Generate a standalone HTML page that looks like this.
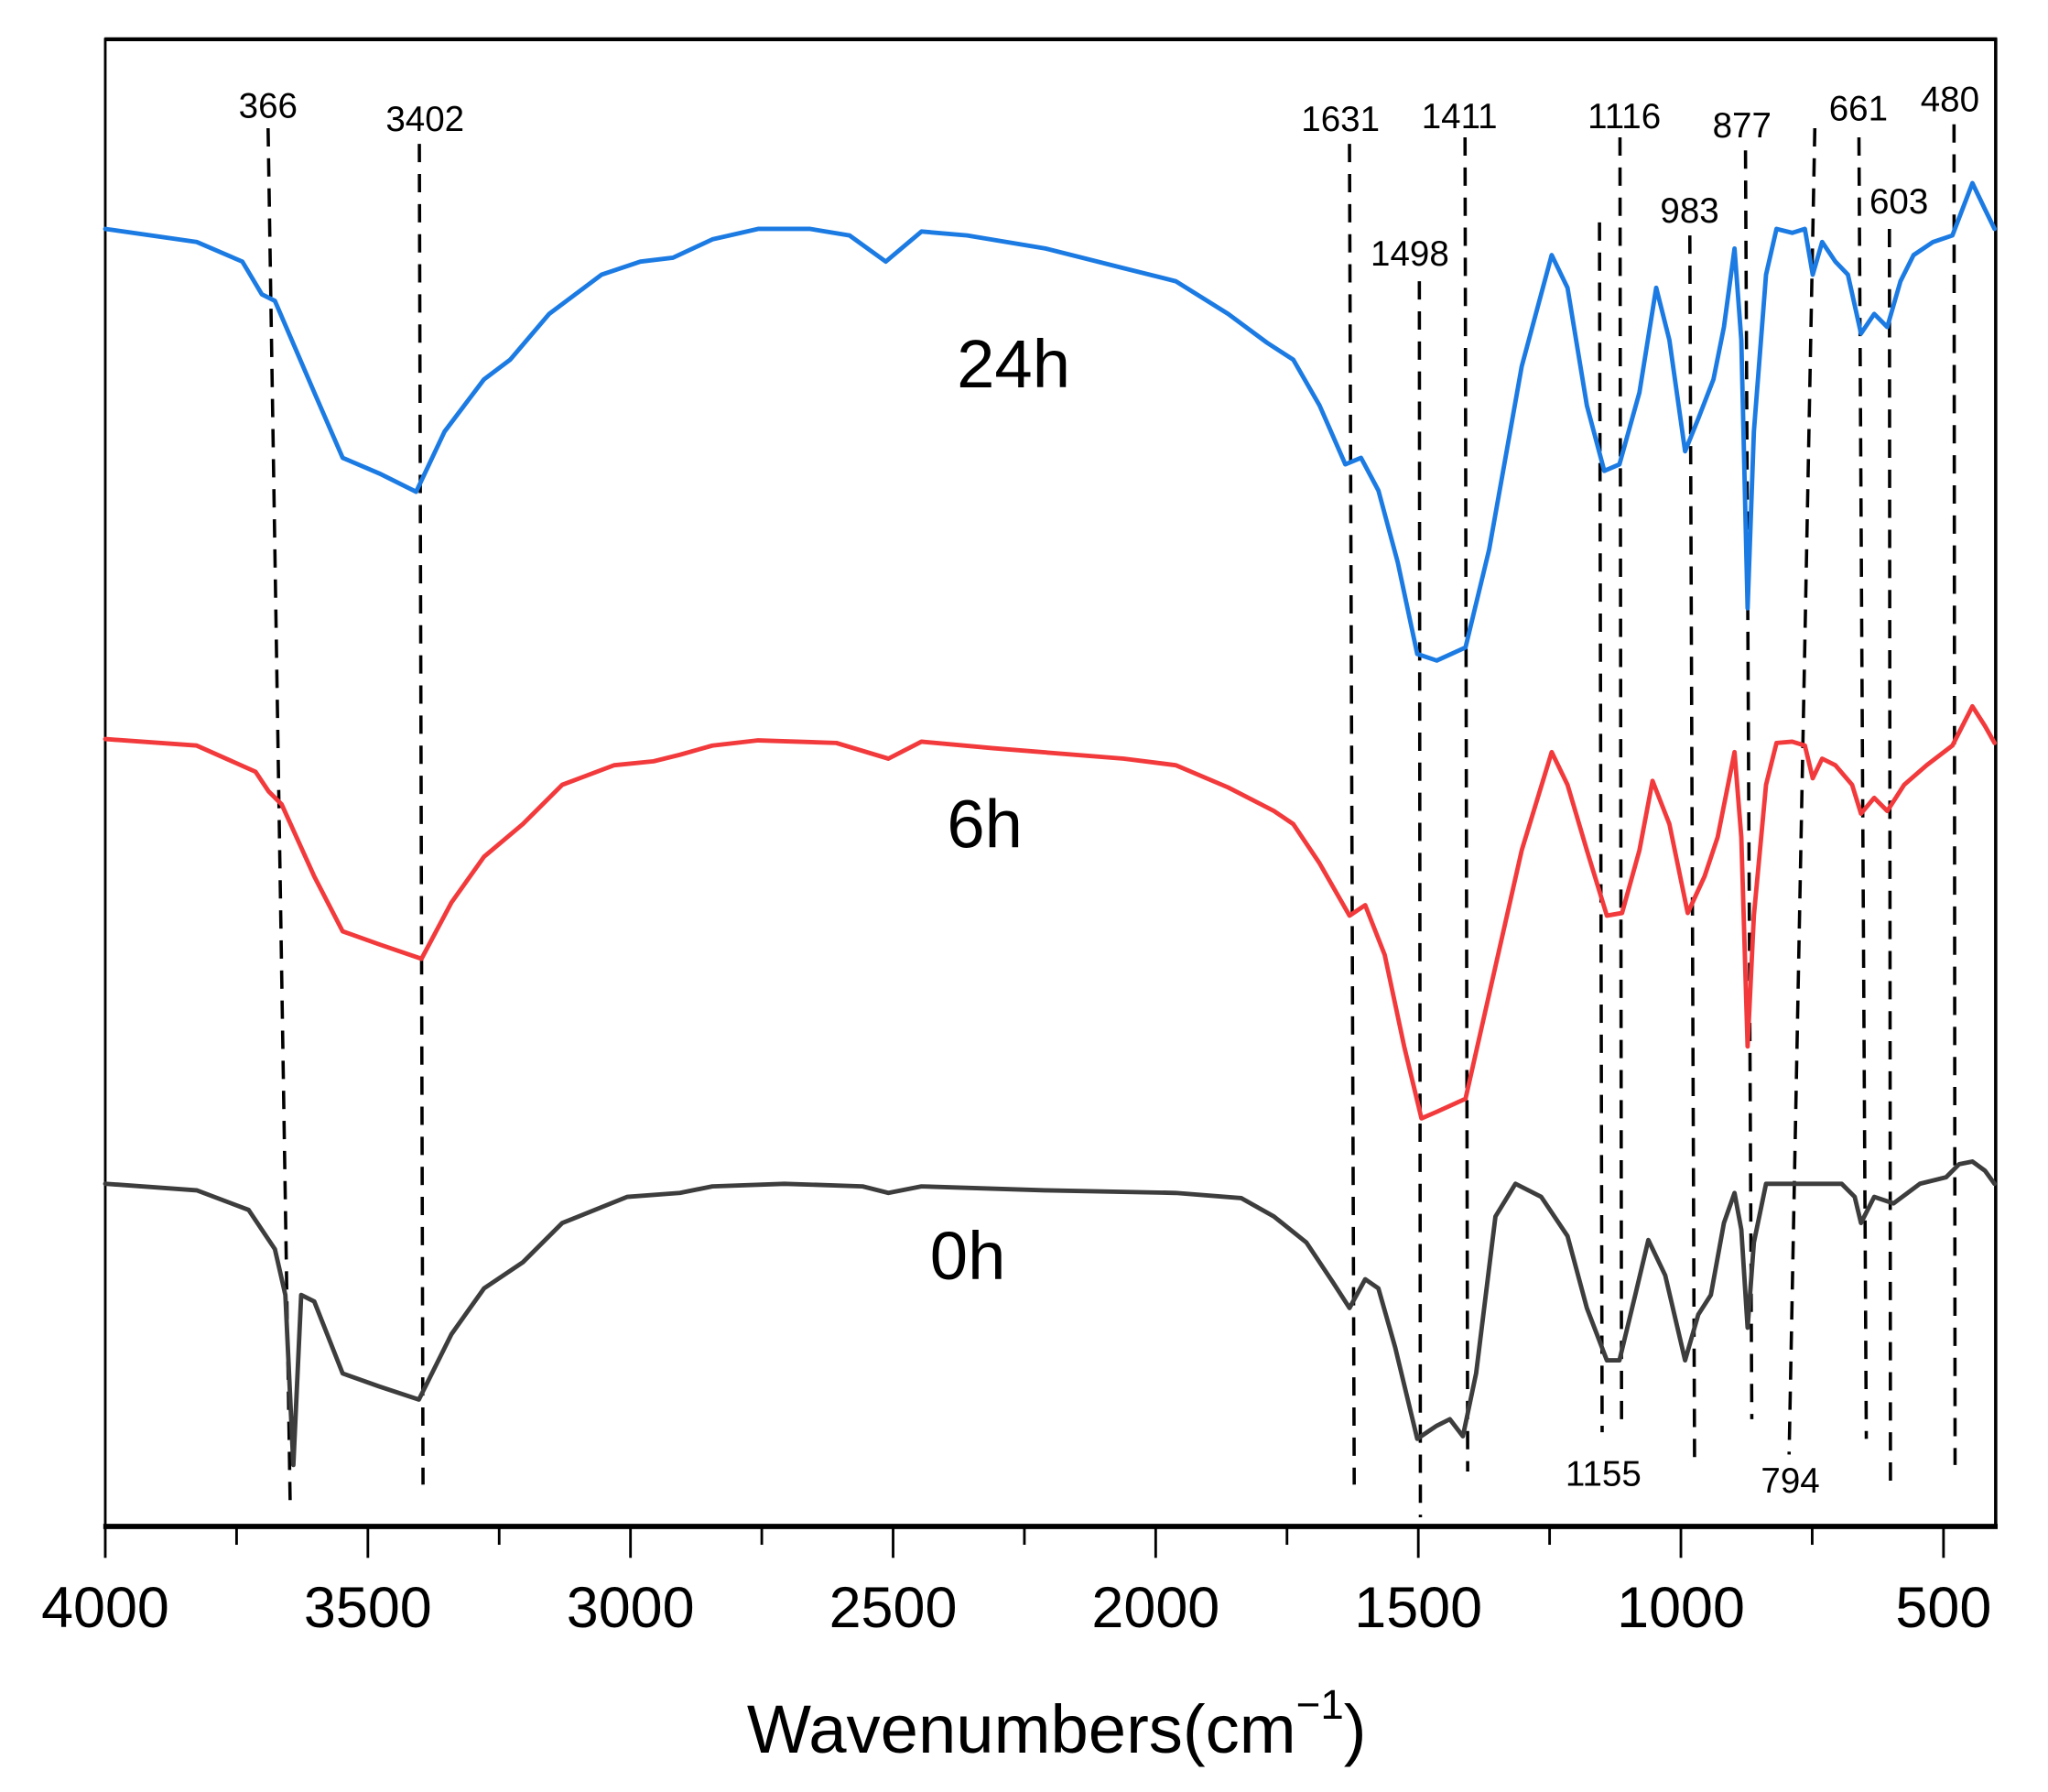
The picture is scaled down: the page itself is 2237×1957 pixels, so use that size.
<!DOCTYPE html>
<html><head><meta charset="utf-8"><style>
html,body{margin:0;padding:0;background:#fff;}
svg{display:block;}
text{font-family:"Liberation Sans",sans-serif;fill:#000;}
</style></head><body>
<svg id="chart" xmlns="http://www.w3.org/2000/svg" width="2237" height="1957" viewBox="0 0 1566 1370" preserveAspectRatio="none">
<rect x="0" y="0" width="1566" height="1370" fill="#fff"/>
<g id="frame">
<line x1="80" y1="30" x2="1527" y2="30" stroke="#000" stroke-width="3"/>
<line x1="80.5" y1="29" x2="80.5" y2="1168" stroke="#000" stroke-width="2"/>
<line x1="1526" y1="29" x2="1526" y2="1168" stroke="#000" stroke-width="2.5"/>
<line x1="79" y1="1167" x2="1527.5" y2="1167" stroke="#000" stroke-width="4"/>
</g>
<g id="ticks"></g>
<g id="dashes"></g>
<g id="series"></g>
<g id="labels"></g>
<text x="775" y="296" font-size="52" text-anchor="middle">24h</text>
<text x="753" y="648" font-size="52" text-anchor="middle">6h</text>
<text x="740" y="978" font-size="52" text-anchor="middle">0h</text>
<text x="808" y="1340" font-size="52" text-anchor="middle">Wavenumbers(cm<tspan font-size="32" dy="-26">−1</tspan><tspan dy="26">)</tspan></text>
</svg>
<script>
const tickValues = [4000,3500,3000,2500,2000,1500,1000,500];
const minorTickValues = [3750,3250,2750,2250,1750,1250,750];

const w24 = [4000,3826,3739,3702,3677,3602,3548,3478,3408,3354,3279,3229,3155,3055,2981,2919,2844,2757,2658,2583,2514,2446,2359,2210,2061,1962,1862,1788,1738,1688,1639,1609,1576,1539,1502,1465,1410,1365,1303,1246,1216,1179,1146,1117,1079,1047,1022,992,967,938,918,898,885,873,861,838,818,788,764,749,731,706,682,657,632,607,582,557,520,483,445,421,403];
const t24 = [993,983,968,943,938,868,818,806,792,838,878,893,928,958,968,971,985,993,993,988,968,991,988,978,963,953,928,906,893,858,813,818,793,738,668,663,673,748,888,973,948,858,808,813,868,948,908,823,848,878,918,978,908,703,838,958,993,990,993,958,983,968,958,913,928,918,953,973,983,988,1028,1008,993];

const w6 = [4000,3826,3714,3689,3664,3602,3548,3478,3398,3341,3279,3205,3130,3031,2956,2906,2844,2757,2608,2509,2446,2310,2061,1962,1862,1775,1738,1688,1631,1601,1564,1527,1494,1465,1410,1365,1303,1246,1216,1179,1141,1112,1079,1054,1022,987,955,930,898,885,873,861,838,818,788,764,749,731,706,674,657,632,607,575,532,483,445,421,403];
const t6 = [603,598,578,563,553,498,456,446,435,478,513,538,568,583,586,591,598,602,600,588,601,596,588,583,566,548,538,508,468,476,438,368,313,318,328,408,518,593,568,518,468,470,518,571,538,470,498,528,593,528,368,468,568,600,601,598,573,588,583,568,546,558,548,568,583,598,628,613,600];

const w0 = [4000,3826,3727,3677,3657,3642,3627,3602,3548,3478,3403,3341,3279,3205,3130,3006,2906,2844,2707,2558,2509,2446,2210,1962,1837,1775,1713,1663,1631,1601,1576,1544,1502,1465,1440,1415,1390,1353,1315,1266,1216,1179,1141,1117,1087,1062,1030,992,967,943,918,898,885,873,861,838,793,744,694,669,657,632,595,545,495,470,445,421,403];
const t0 = [263,258,243,213,178,48,178,173,118,108,98,148,183,203,233,253,256,261,263,261,256,261,258,256,252,238,218,188,168,190,183,138,68,78,83,70,118,238,263,253,223,168,128,128,178,220,193,128,163,178,233,256,228,153,218,263,263,263,263,253,233,253,248,263,268,278,280,273,263];

const peakLabels = ["366","3402","1631","1498","1411","1155","1116","983","877","794","661","603","480"];
const peakTop = [3690,3402,1631,1498,1411,1155,1116,983,877,745,661,603,480];
const peakBottom = [3648,3395,1622,1496,1406,1150,1113,974,865,794,647,601,478];

const svgNS = "http://www.w3.org/2000/svg";
function xs(w){ return 80.5 + (4000 - w) * 0.4016; }
function ys(t){ return 1168 - t; }
function mk(tag, attrs, parent){ const e=document.createElementNS(svgNS,tag); for(const k in attrs) e.setAttribute(k,attrs[k]); parent.appendChild(e); return e; }

const ticksG = document.getElementById('ticks');
tickValues.forEach(v=>{
  const l = mk('line',{x1:xs(v),x2:xs(v),y1:1168,y2:1191,stroke:'#000','stroke-width':2},ticksG);
  
  
  const t = mk('text',{x:xs(v),y:1244,'font-size':44,'text-anchor':'middle'},ticksG);
  t.textContent = v;
  
  
});
minorTickValues.forEach(v=>{
  const l = mk('line',{x1:xs(v),x2:xs(v),y1:1168,y2:1181,stroke:'#000','stroke-width':2},ticksG);
  
  
});

const lineTopY = [98,110,110,215,105,170,105,180,115,98,105,175,95];
const lineBotY = [1148,1135,1135,1160,1125,1095,1090,1118,1085,1112,1100,1140,1120];
const labX = [205,325,1025,1078,1116,1226,1242,1292,1332,1369,1421,1452,1491];
const labY = [90,100,100,203,98,1136,98,170,105,1141,92,163,85];
const dashG = document.getElementById('dashes');
const labG = document.getElementById('labels');
peakLabels.forEach((s,i)=>{
  const l = mk('line',{x1:xs(peakTop[i]),y1:lineTopY[i],x2:xs(peakBottom[i]),y2:lineBotY[i],stroke:'#000','stroke-width':2.5,'stroke-dasharray':'14,9'},dashG);
  
  
  const t = mk('text',{x:labX[i],y:labY[i],'font-size':27,'text-anchor':'middle'},labG);
  t.textContent = s;
  
  
});

const seriesG = document.getElementById('series');
function draw(ws, ts, color, name){
  const d = ws.map((w,i)=>(i?'L':'M')+xs(w).toFixed(1)+' '+ys(ts[i]).toFixed(1)).join(' ');
  const p = mk('path',{d:d,fill:'none',stroke:color,'stroke-width':3.4,'stroke-linejoin':'round','stroke-linecap':'round'},seriesG);
  
  
}
draw(w0,t0,'#3d3d3d','series-0h');
draw(w6,t6,'#f23a3c','series-6h');
draw(w24,t24,'#1c7be3','series-24h');
</script>
</body></html>
